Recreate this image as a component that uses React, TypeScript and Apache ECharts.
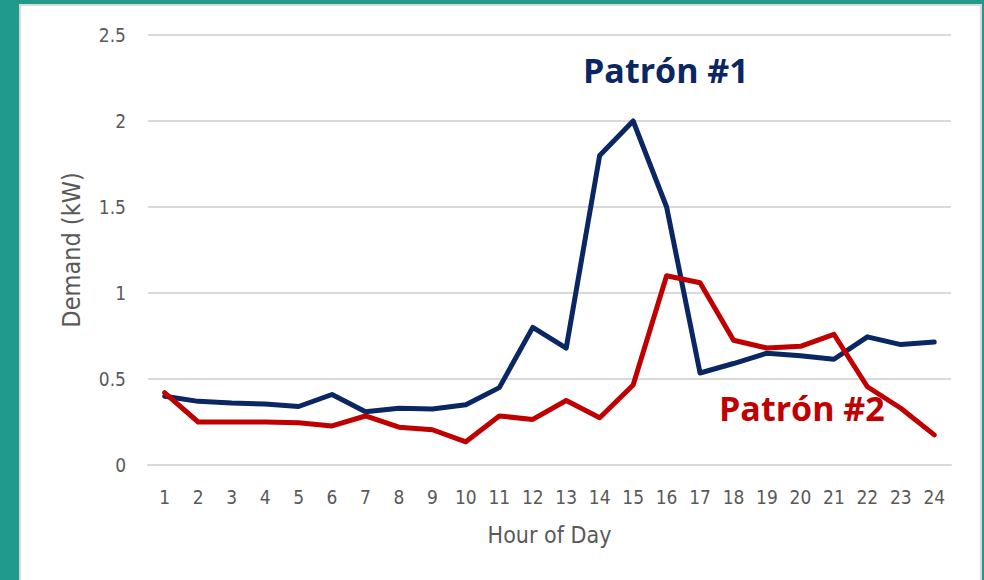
import React, { useEffect, useRef } from "react";
import * as echarts from "echarts";

const hours = ["1","2","3","4","5","6","7","8","9","10","11","12","13","14","15","16","17","18","19","20","21","22","23","24"];
const patron1 = [0.40,0.37,0.36,0.355,0.34,0.41,0.31,0.33,0.325,0.35,0.45,0.80,0.68,1.80,2.0,1.50,0.535,0.59,0.65,0.635,0.615,0.745,0.70,0.715];
const patron2 = [0.42,0.25,0.25,0.25,0.245,0.227,0.285,0.22,0.205,0.135,0.285,0.265,0.375,0.275,0.465,1.10,1.06,0.725,0.68,0.69,0.76,0.455,0.33,0.175];
const seriesNames = ["Patrón #1", "Patrón #2"];
const yTicks = { min: 0, max: 2.5, interval: 0.5 };

const BLUE = "#0a2663";
const RED = "#c00000";
const LABEL_FONT = "'Liberation Sans Narrow', 'DejaVu Sans Condensed', 'Open Sans', sans-serif";

export default function App() {
  const ref = useRef<HTMLDivElement>(null);
  useEffect(() => {
    if (!ref.current) return;
    const chart = echarts.init(ref.current, undefined, { renderer: "svg" });
    chart.setOption({
      animation: false,
      backgroundColor: "#1f9a8b",
      graphic: [
        {
          type: "rect",
          z: -10,
          shape: { x: 20, y: 5, width: 961, height: 580 },
          style: { fill: "#ffffff", stroke: "#d9d9d9", lineWidth: 2 },
        },
        {
          type: "text",
          left: 583,
          top: 53,
          style: { text: seriesNames[0], fill: BLUE, font: "bold 34px 'Open Sans', sans-serif" },
        },
        {
          type: "text",
          left: 719,
          top: 391,
          style: { text: seriesNames[1], fill: RED, font: "bold 34px 'Open Sans', sans-serif" },
        },
      ],
      grid: { left: 148, right: 33, top: 35, bottom: 115 },
      xAxis: {
        type: "category",
        data: hours,
        boundaryGap: true,
        axisLine: { show: true, lineStyle: { color: "#d9d9d9", width: 2 } },
        axisTick: { show: false },
        axisLabel: { color: "#595959", fontSize: 19, fontFamily: LABEL_FONT, margin: 22, interval: 0 },
        name: "Hour of Day",
        nameLocation: "middle",
        nameGap: 58,
        nameTextStyle: { color: "#595959", fontSize: 23, fontFamily: LABEL_FONT },
      },
      yAxis: {
        type: "value",
        min: yTicks.min,
        max: yTicks.max,
        interval: yTicks.interval,
        axisLine: { show: false },
        axisTick: { show: false },
        splitLine: { lineStyle: { color: "#d9d9d9", width: 2 } },
        axisLabel: { color: "#595959", fontSize: 19, fontFamily: LABEL_FONT, margin: 22 },
        name: "Demand (kW)",
        nameLocation: "middle",
        nameGap: 64,
        nameTextStyle: { color: "#595959", fontSize: 25, fontFamily: LABEL_FONT },
      },
      series: [
        {
          name: seriesNames[0],
          type: "line",
          data: patron1,
          symbol: "none",
          lineStyle: { color: BLUE, width: 5, cap: "round", join: "round" },
        },
        {
          name: seriesNames[1],
          type: "line",
          data: patron2,
          symbol: "none",
          lineStyle: { color: RED, width: 5, cap: "round", join: "round" },
        },
      ],
    });
    return () => chart.dispose();
  }, []);
  return (
    <div
      ref={ref}
      style={{ position: "fixed", left: 0, top: 0, width: 984, height: 580 }}
    />
  );
}
